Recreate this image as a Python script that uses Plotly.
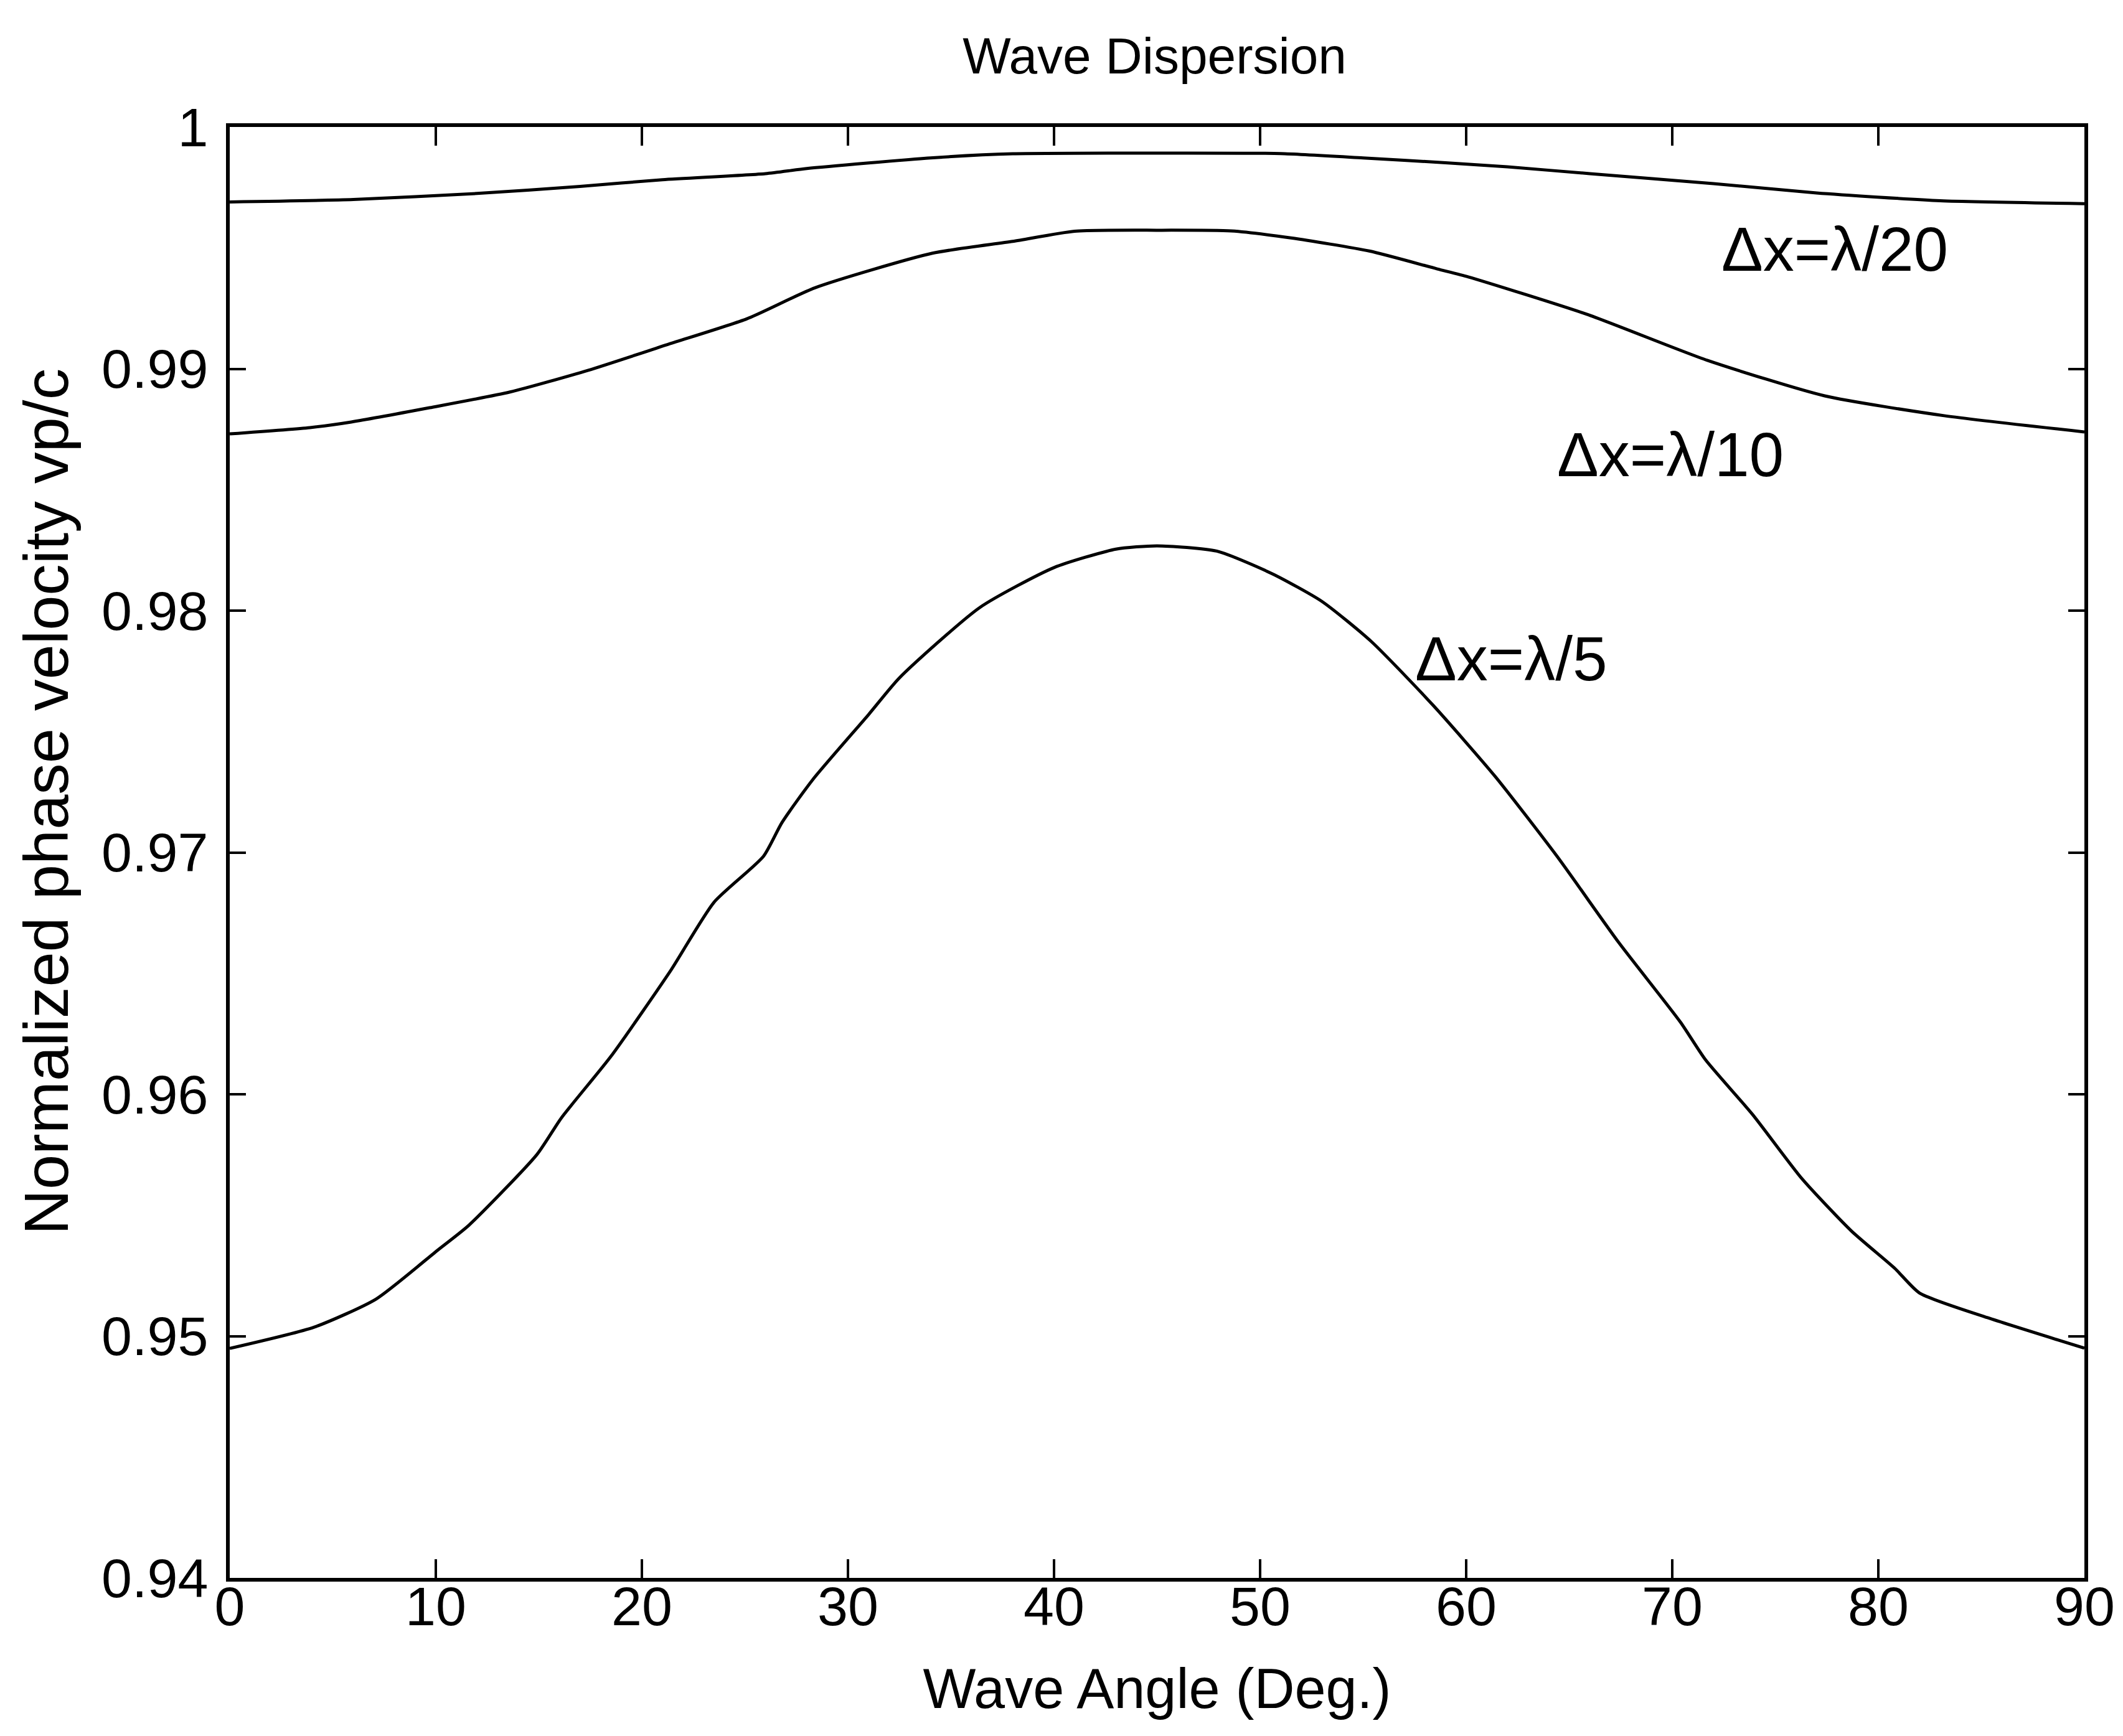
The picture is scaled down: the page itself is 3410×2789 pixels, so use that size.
import plotly.graph_objects as go

# ---- data ----
angle_20 = [0, 6, 12, 17, 21, 26, 28, 34, 38, 45, 51, 55, 59, 62, 66, 72, 77, 83, 90]
vp_20 = [0.9969, 0.9970, 0.99725, 0.99754, 0.99782, 0.99807, 0.99828, 0.99872, 0.99889,
         0.99892, 0.9989, 0.99872, 0.99852, 0.99835, 0.99807, 0.99766, 0.99727, 0.99695, 0.99683]

angle_10 = [0, 3.9, 5.9, 9.7, 13.6, 17.4, 21.3, 25.1, 28.4, 34.1, 38, 41, 45, 48.6, 51.5,
            55.3, 58.6, 60.1, 65.9, 71.7, 77.4, 83.2, 90]
vp_10 = [0.98731, 0.98757, 0.9878, 0.98839, 0.98904, 0.98994, 0.99102, 0.99207, 0.99335,
         0.99478, 0.99527, 0.99569, 0.99573, 0.9957, 0.99541, 0.99487, 0.99413, 0.9938,
         0.99224, 0.99035, 0.98888, 0.98806, 0.98739]

angle_5 = [0, 4.1, 7.1, 10.1, 11.6, 14.9, 16.1, 18.5, 21.4, 23.5, 25.9, 26.8, 28.3, 31,
           32.5, 36.4, 40, 43, 45, 47.9, 50.6, 53, 55.4, 58.4, 61.4, 64.4, 67.4, 70.4,
           71.6, 73.9, 76.3, 78.7, 80.8, 82, 85.3, 90]
vp_5 = [0.94949, 0.95037, 0.95153, 0.95356, 0.95458, 0.9575, 0.95903, 0.96157, 0.96512,
        0.96794, 0.96984, 0.97124, 0.97302, 0.9757, 0.97722, 0.98013, 0.98178, 0.98254,
        0.98268, 0.98246, 0.98152, 0.98038, 0.97872, 0.97608, 0.97315, 0.96985, 0.96628,
        0.96298, 0.96144, 0.95916, 0.9565, 0.95434, 0.9528, 0.95178, 0.95076, 0.9495]

x_ticks = [0, 10, 20, 30, 40, 50, 60, 70, 80, 90]
y_ticks = [0.94, 0.95, 0.96, 0.97, 0.98, 0.99, 1.0]
y_ticktext = ["0.94", "0.95", "0.96", "0.97", "0.98", "0.99", "1"]

labels = ["\u0394x=\u03bb/20", "\u0394x=\u03bb/10", "\u0394x=\u03bb/5"]
label_x = [77.9, 69.9, 62.2]
label_y = [0.99496, 0.98646, 0.97802]

FONT = "Liberation Sans, Arial, Helvetica, sans-serif"

fig = go.Figure()
for xs, ys in [(angle_20, vp_20), (angle_10, vp_10), (angle_5, vp_5)]:
    fig.add_trace(go.Scatter(x=xs, y=ys, mode="lines",
                             line=dict(color="black", width=5, shape="spline", smoothing=0.6),
                             showlegend=False, hoverinfo="skip"))

for t, lx, ly in zip(labels, label_x, label_y):
    fig.add_annotation(x=lx, y=ly, text=t, showarrow=False,
                       font=dict(family=FONT, size=100, color="black"),
                       xanchor="center", yanchor="middle")

# y-axis title placed as in the reference (slightly above center)
fig.add_annotation(xref="paper", yref="paper", x=-0.099, y=0.535,
                   text="Normalized phase velocity vp/c", textangle=-90,
                   showarrow=False, xanchor="center", yanchor="middle",
                   font=dict(family=FONT, size=101, color="black"))

axis_common = dict(showline=True, linecolor="black", linewidth=6, mirror="ticks",
                   ticks="inside", tickcolor="black", tickwidth=4,
                   showgrid=False, zeroline=False,
                   tickfont=dict(family=FONT, size=88, color="black"))

fig.update_xaxes(range=[0, 90], tickvals=x_ticks, ticklen=30, ticklabelstandoff=-36,
                 title=dict(text="Wave Angle (Deg.)", standoff=54,
                            font=dict(family=FONT, size=90, color="black")),
                 **axis_common)
fig.update_yaxes(range=[0.94, 1.0], tickvals=y_ticks, ticktext=y_ticktext, ticklen=26,
                 ticklabelstandoff=11,
                 **axis_common)

fig.update_layout(
    width=3410, height=2789,
    margin=dict(l=361, r=70, t=196, b=262),
    paper_bgcolor="white", plot_bgcolor="white",
    title=dict(text="Wave Dispersion", x=0.5415, xanchor="center", y=0.971, yanchor="middle",
               font=dict(family=FONT, size=82, color="black")),
)

fig.write_html("out.html")
